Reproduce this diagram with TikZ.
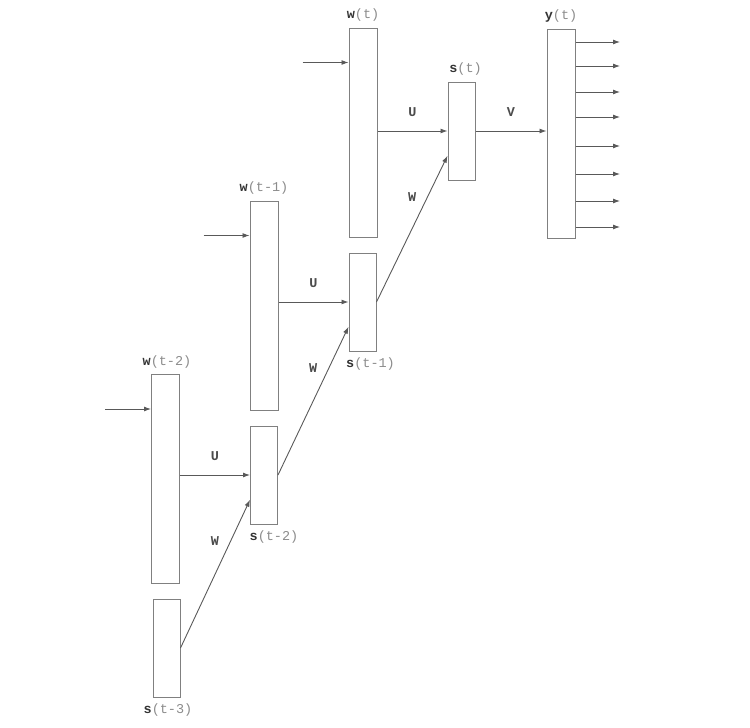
\documentclass[tikz,border=0pt]{standalone}
\usepackage{fontspec}
\setmonofont{Liberation Mono}
\usetikzlibrary{positioning,arrows.meta,calc}

\newcommand{\unitlab}[2]{\textbf{\textcolor{black!80}{#1}}(#2)}

\begin{document}
\begin{tikzpicture}[
        x=1pt, y=-1pt,
        wbox/.style={draw=black!50, line width=1pt, minimum width=28pt, minimum height=209pt, inner sep=0pt},
        sbox/.style={draw=black!50, line width=1pt, minimum width=27pt, minimum height=98pt, inner sep=0pt},
        lbl/.style={font=\fontsize{13.5}{15}\selectfont\ttfamily, text=black!45, inner sep=1pt},
        mat/.style={font=\fontsize{13.5}{15}\selectfont\ttfamily\bfseries, text=black!70, inner sep=1pt},
        arr/.style={-{Latex[length=7pt,width=5pt]}, black!65, line width=0.9pt}
      ]
      \useasboundingbox (0,0) rectangle (750,728);

      % Step t
      \node[wbox] (wt) at (363,132.5) {};
      \node[sbox] (st) at (461.5,131) {};
      \node[wbox] (yt) at (561,133.5) {};

      % Step t-1
      \node[wbox] (wt1) at (264,305.5) {};
      \node[sbox] (st1) at (362.5,302) {};

      % Step t-2
      \node[wbox] (wt2) at (165.5,479) {};
      \node[sbox] (st2) at (264,475) {};
      \node[sbox] (st3) at (166.5,648) {};

      % Labels
      \node[lbl,above=5pt of wt] (lwt) {\unitlab{w}{t}};
      \node[lbl,above=5pt of st,xshift=4pt] (lst) {\unitlab{s}{t}};
      \node[lbl,above=5pt of yt] (lyt) {\unitlab{y}{t}};
      \node[lbl,above=5pt of wt1] (lwt1) {\unitlab{w}{t-1}};
      \node[lbl,below=5pt of st1,xshift=8pt] (lst1) {\unitlab{s}{t-1}};
      \node[lbl,above=5pt of wt2,xshift=1.5pt] (lwt2) {\unitlab{w}{t-2}};
      \node[lbl,below=5pt of st2,xshift=10pt] (lst2) {\unitlab{s}{t-2}};
      \node[lbl,below=5pt of st3,xshift=1.5pt] (lst3) {\unitlab{s}{t-3}};

      % Inputs
      \coordinate (int) at ([xshift=-46pt,yshift=-35pt]wt.north west);
      \coordinate (int1) at ([xshift=-46pt,yshift=-35pt]wt1.north west);
      \coordinate (int2) at ([xshift=-46pt,yshift=-35pt]wt2.north west);
      \draw[arr] (int) -- (int -| wt.west);
      \draw[arr] (int1) -- (int1 -| wt1.west);
      \draw[arr] (int2) -- (int2 -| wt2.west);

      % U and V
      \draw[arr] (wt.east |- st) -- node[mat,above=13pt] {U} (st.west);
      \draw[arr] (wt1.east |- st1) -- node[mat,above=13pt] {U} (st1.west);
      \draw[arr] (wt2.east |- st2) -- node[mat,above=13pt] {U} (st2.west);
      \draw[arr] (st.east) -- node[mat,above=13pt] {V} (yt.west |- st.east);

      % W (recurrence)
      \draw[arr] (st1.east) -- node[mat,pos=0.72,left=10pt] {W} ($(st.west)!0.5!(st.south west)$);
      \draw[arr] (st2.east) -- node[mat,pos=0.72,left=10pt] {W} ($(st1.west)!0.5!(st1.south west)$);
      \draw[arr] (st3.east) -- node[mat,pos=0.72,left=10pt] {W} ($(st2.west)!0.5!(st2.south west)$);

      % Outputs
      \foreach \k/\yy in {1/42,2/66,3/92,4/117,5/146,6/174,7/201,8/227}{
        \coordinate (out\k) at (620,\yy);
        \draw[arr] (yt.east |- out\k) -- (out\k);
      }

\end{tikzpicture}
\end{document}
